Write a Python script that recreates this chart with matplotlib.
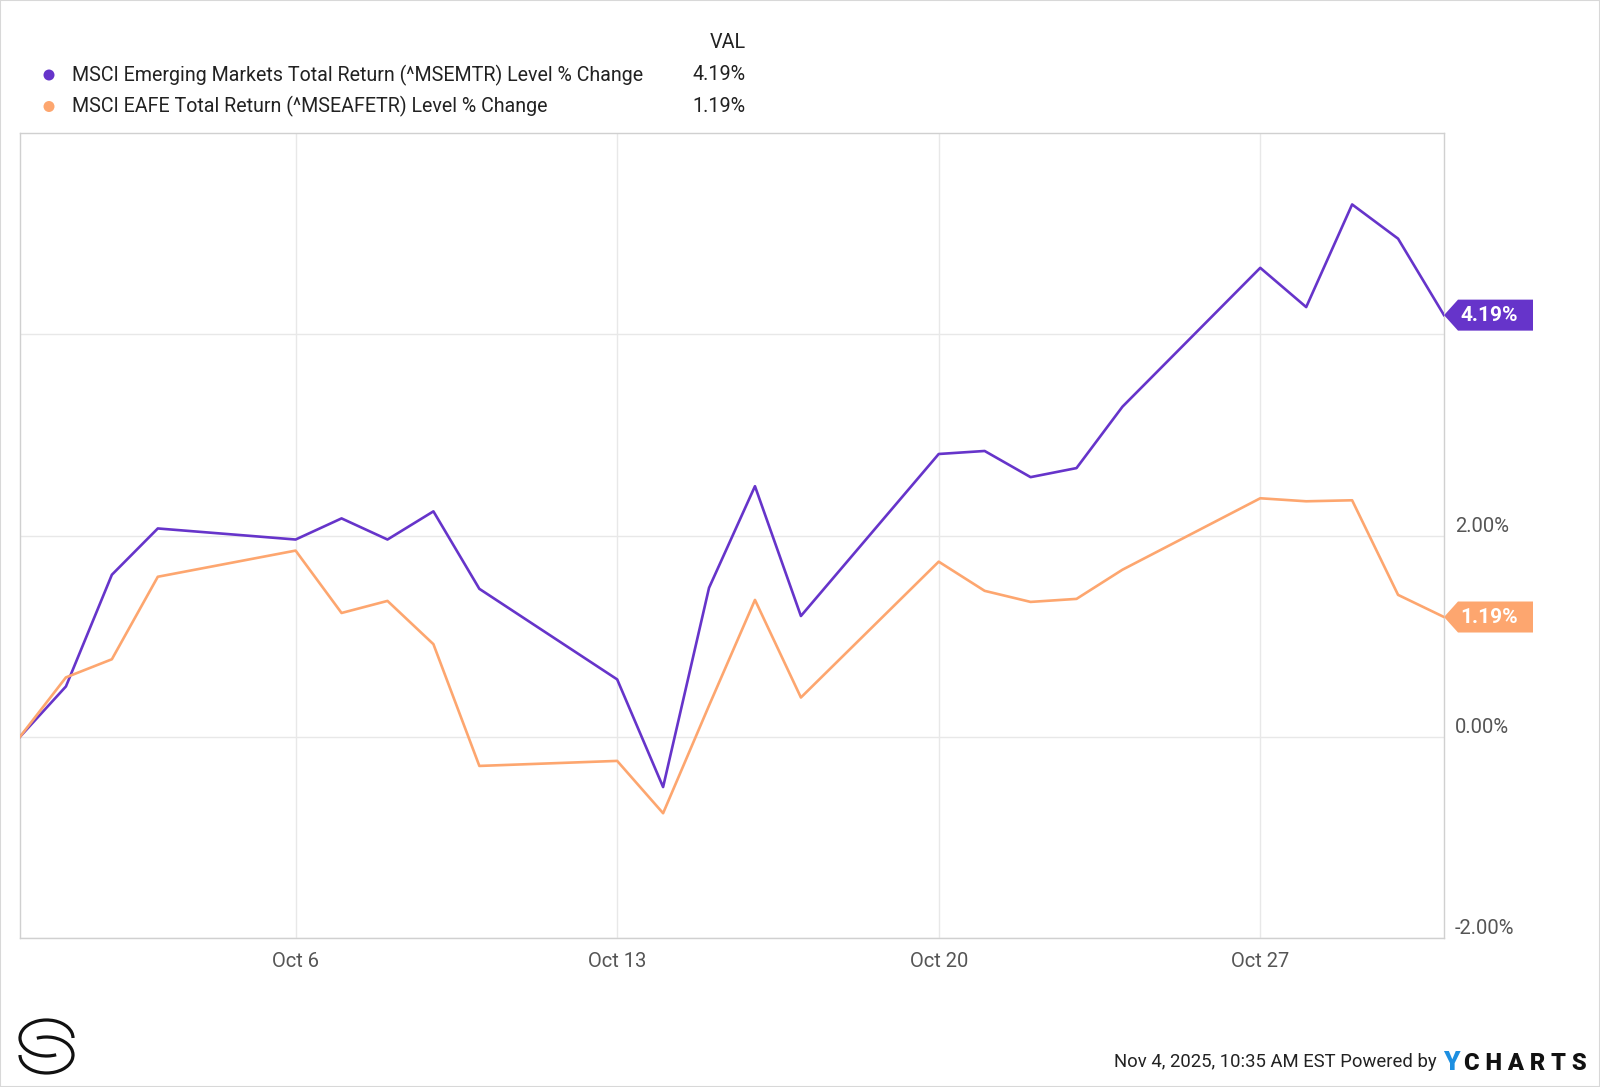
import matplotlib
matplotlib.use("Agg")
import matplotlib.pyplot as plt
import matplotlib.dates as mdates
from matplotlib.patches import Polygon, Arc, Rectangle, Circle
from matplotlib.transforms import IdentityTransform
import numpy as np
import pandas as pd

plt.rcParams["font.family"] = ["Roboto", "DejaVu Sans"]

dates = ["2025-09-30", "2025-10-01", "2025-10-02", "2025-10-03",
         "2025-10-06", "2025-10-07", "2025-10-08", "2025-10-09", "2025-10-10",
         "2025-10-13", "2025-10-14", "2025-10-15", "2025-10-16", "2025-10-17",
         "2025-10-20", "2025-10-21", "2025-10-22", "2025-10-23", "2025-10-24",
         "2025-10-27", "2025-10-28", "2025-10-29", "2025-10-30", "2025-10-31"]
em_vals = [0.0, 0.50, 1.61, 2.07,
           1.96, 2.17, 1.96, 2.24, 1.47,
           0.57, -0.50, 1.48, 2.49, 1.20,
           2.81, 2.84, 2.58, 2.67, 3.28,
           4.66, 4.27, 5.29, 4.95, 4.19]
eafe_vals = [0.0, 0.59, 0.77, 1.59,
             1.85, 1.23, 1.35, 0.92, -0.29,
             -0.24, -0.76, 0.31, 1.36, 0.39,
             1.74, 1.45, 1.34, 1.37, 1.66,
             2.37, 2.34, 2.35, 1.41, 1.19]
series_names = ["MSCI Emerging Markets Total Return (^MSEMTR) Level % Change",
                "MSCI EAFE Total Return (^MSEAFETR) Level % Change"]
colors = ["#6634CA", "#FDA66F"]
yticks = [-2, 0, 2, 4]
xtick_dates = ["2025-10-06", "2025-10-13", "2025-10-20", "2025-10-27"]

x = pd.to_datetime(dates)

W, H = 1600, 1087
fig = plt.figure(figsize=(W / 100, H / 100), dpi=100)
ax = fig.add_axes([20 / W, 1 - 938 / H, (1444 - 20) / W, (938 - 133) / H])

for vals, c in zip([em_vals, eafe_vals], colors):
    ax.plot(x, vals, color=c, lw=1.9, solid_joinstyle="round", zorder=3)

ax.set_xlim(x[0], x[-1])
ax.set_ylim(-2, 6)
ax.set_xticks(pd.to_datetime(xtick_dates))
ax.xaxis.set_major_formatter(mdates.DateFormatter("%b %-d"))
ax.set_yticks(yticks)
ax.set_yticklabels(["%.2f%%" % v for v in yticks])
ax.yaxis.tick_right()
ax.tick_params(axis="both", length=0, labelsize=14.5, labelcolor="#555555")
ax.tick_params(axis="x", pad=10)
ax.tick_params(axis="y", pad=8)
for lab in ax.get_yticklabels():
    lab.set_verticalalignment("bottom")
ax.grid(True, color="#e8e8e8", lw=1)
for s in ax.spines.values():
    s.set_color("#d0d0d0")
    s.set_linewidth(1)

# end-value badges
fig.canvas.draw()
for vals, c in zip([em_vals, eafe_vals], colors):
    px, py = ax.transData.transform((mdates.date2num(x[-1]), vals[-1]))
    h = 15.5
    poly = Polygon([(px, py), (px + 14, py + h), (px + 89, py + h),
                    (px + 89, py - h), (px + 14, py - h)],
                   closed=True, transform=IdentityTransform(), facecolor=c,
                   edgecolor="none", zorder=5, clip_on=False)
    fig.add_artist(poly)
    fig.text((px + 45) / W, py / H, "%.2f%%" % vals[-1], color="white",
             fontsize=15, fontweight="bold", ha="center", va="center", zorder=6)

# legend header
fig.text(746 / W, 1 - 43 / H, "VAL", fontsize=14.2, ha="right", va="center", color="#222222")
for i, (name, vals, c) in enumerate(zip(series_names, [em_vals, eafe_vals], colors)):
    yy = 75 + 31.5 * i
    fig.add_artist(Circle((49, H - yy), 5.5, transform=IdentityTransform(),
                          facecolor=c, edgecolor="none"))
    fig.text(72 / W, 1 - yy / H, name, fontsize=14.1, ha="left", va="center", color="#222222")
    fig.text(746 / W, 1 - yy / H, "%.2f%%" % vals[-1], fontsize=14.2, ha="right", va="center",
             color="#222222")

# footer
fig.text(1437 / W, 1 - 1062 / H, "Nov 4, 2025, 10:35 AM EST Powered by", fontsize=13.3,
         ha="right", va="center", color="#222222")
fig.text(1443 / W, 1 - 1063 / H, "Y", fontsize=19, fontweight="black", color="#1D8FE1",
         ha="left", va="center")
fig.text(1464 / W, 1 - 1063 / H, "C H A R T S", fontsize=17, fontweight="black",
         color="#111111", ha="left", va="center")

# logo
for cy, t1, t2 in [(1038, 0, 300), (1055, 180, 480)]:
    arc = Arc((46.5, H - cy), 53, 36, theta1=t1, theta2=t2, transform=IdentityTransform(),
              color="#111111", lw=2.3)
    fig.add_artist(arc)

fig.add_artist(Rectangle((0, 0), 1, 1, transform=fig.transFigure, fill=False,
                         edgecolor="#d8d8d8", lw=1.5))

fig.savefig("out.png", dpi=100)
